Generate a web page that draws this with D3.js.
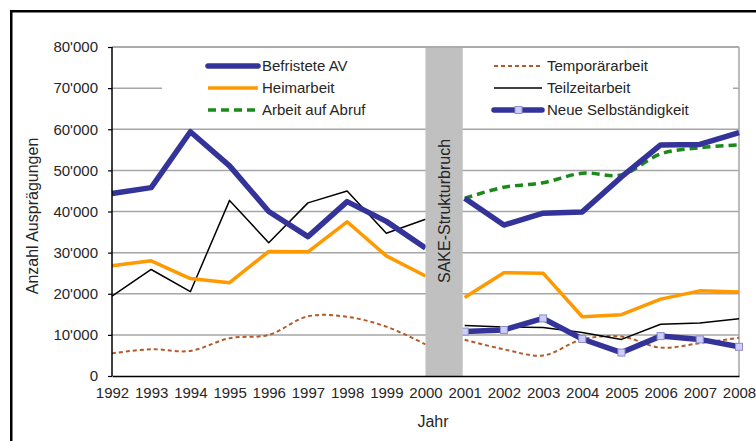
<!DOCTYPE html>
<html>
<head>
<meta charset="utf-8">
<script src="https://cdn.jsdelivr.net/npm/d3@7"></script>
<style>
body { margin: 0; background: #fff; }
text { font-family: "Liberation Sans", Arial, sans-serif; fill: #262626; }
</style>
</head>
<body>
<svg></svg>
<script>
var width = 756;
var height = 441;

// data
var years = [1992, 1993, 1994, 1995, 1996, 1997, 1998, 1999, 2000,
             2001, 2002, 2003, 2004, 2005, 2006, 2007, 2008];
var yearsNew = [2001, 2002, 2003, 2004, 2005, 2006, 2007, 2008];

var befristete = [44400, 45800, 59400, 51100, 40000, 33900, 42400, 37600, 31100,
                  43200, 36700, 39600, 39900, 48400, 56200, 56300, 59200];
var heimarbeit = [26800, 28000, 23700, 22700, 30300, 30200, 37500, 29200, 24300,
                  19100, 25100, 25000, 14400, 14900, 18700, 20700, 20400];
var teilzeit = [19400, 25900, 20500, 42700, 32400, 42100, 45000, 34700, 38100,
                12300, 11900, 11800, 10600, 8900, 12600, 12900, 13900];
var temporaer = [5500, 6500, 6100, 9200, 10000, 14500, 14400, 12000, 7700,
                 8800, 6500, 5000, 8900, 9600, 6900, 8000, 9300];
var abruf = [43200, 45900, 47000, 49300, 48900, 54000, 55500, 56200];
var selbst = [10800, 11200, 14000, 9000, 5700, 9700, 8900, 7100];

var yTicks = [0, 10000, 20000, 30000, 40000, 50000, 60000, 70000, 80000];
var breakYears = [2000, 2001];

var margin = {left: 112, right: 739, top: 47, bottom: 376};

var x = d3.scaleLinear().domain([1992, 2008]).range([margin.left, margin.right]);
var y = d3.scaleLinear().domain([0, 80000]).range([margin.bottom, margin.top]);

var fmt = v => d3.format(",")(v).replace(/,/g, "'");

var svg = d3.select('svg')
	.attr('width', width)
	.attr('height', height);

// outer frame (runs off the picture on the right and bottom)
svg.append('rect')
	.attr('x', 11.25).attr('y', 11.25)
	.attr('width', 800).attr('height', 500)
	.attr('fill', 'none')
	.attr('stroke', '#000')
	.attr('stroke-width', 2.5);

// gridlines
svg.append('g')
	.selectAll('line')
	.data(yTicks.filter(d => d > 0))
	.enter().append('line')
		.attr('x1', margin.left).attr('x2', margin.right)
		.attr('y1', d => y(d)).attr('y2', d => y(d))
		.attr('stroke', '#a6a6a6')
		.attr('stroke-width', 1.5);

svg.append('line')
	.attr('x1', margin.right).attr('x2', margin.right)
	.attr('y1', margin.top).attr('y2', margin.bottom)
	.attr('stroke', '#a6a6a6')
	.attr('stroke-width', 1.5);

// legend background hides the gridline behind it
svg.append('rect')
	.attr('x', 162).attr('y', 52)
	.attr('width', 571).attr('height', 70)
	.attr('fill', '#fff');

var series = [
	{name: 'Temporärarbeit', years: years, values: temporaer, color: '#b35a2a', width: 2, dash: '4,3', smooth: true},
	{name: 'Teilzeitarbeit', years: years, values: teilzeit, color: '#000', width: 1.5},
	{name: 'Heimarbeit', years: years, values: heimarbeit, color: '#ff9900', width: 3.5},
	{name: 'Arbeit auf Abruf', years: yearsNew, values: abruf, color: '#1b8a1b', width: 3.5, dash: '8,5', smooth: true},
	{name: 'Befristete AV', years: years, values: befristete, color: '#333399', width: 5.5},
	{name: 'Neue Selbständigkeit', years: yearsNew, values: selbst, color: '#333399', width: 5.5, marker: true}
];

var line = d3.line()
	.x(d => x(d.year))
	.y(d => y(d.value));

var smoothLine = d3.line()
	.x(d => x(d.year))
	.y(d => y(d.value))
	.curve(d3.curveCatmullRom.alpha(0.5));

series.forEach(s => {
	var pts = s.years.map((yr, i) => ({year: yr, value: s.values[i]}));
	var parts = [pts.filter(d => d.year <= breakYears[0]), pts.filter(d => d.year >= breakYears[1])]
		.filter(p => p.length > 1);
	svg.append('g')
		.selectAll('path')
		.data(parts)
		.enter().append('path')
			.attr('d', d => (s.smooth ? smoothLine : line)(d))
			.attr('fill', 'none')
			.attr('stroke', s.color)
			.attr('stroke-width', s.width)
			.attr('stroke-dasharray', s.dash || null)
			.attr('stroke-linejoin', 'round');
	if (s.marker) {
		svg.append('g')
			.selectAll('rect')
			.data(pts)
			.enter().append('rect')
				.attr('x', d => x(d.year) - 3.5)
				.attr('y', d => y(d.value) - 3.5)
				.attr('width', 7).attr('height', 7)
				.attr('fill', '#ccccff')
				.attr('stroke', '#8f8fc0')
				.attr('stroke-width', 1);
	}
});

// SAKE break band
svg.append('rect')
	.attr('x', x(breakYears[0]))
	.attr('y', margin.top)
	.attr('width', x(breakYears[1]) - x(breakYears[0]) - 2)
	.attr('height', margin.bottom - margin.top)
	.attr('fill', '#c0c0c0');

svg.append('text')
	.attr('transform', 'translate(450,283) rotate(-90)')
	.attr('font-size', '16px')
	.text('SAKE-Strukturbruch');

svg.append('line')
	.attr('x1', margin.left).attr('x2', margin.right)
	.attr('y1', margin.top).attr('y2', margin.top)
	.attr('stroke', '#a6a6a6')
	.attr('stroke-width', 1.5);

// axes
var yAxis = svg.append('g')
	.attr('transform', 'translate(' + margin.left + ',0)')
	.call(d3.axisLeft(y).tickValues(yTicks).tickFormat(fmt).tickSize(4).tickPadding(10));
yAxis.select('.domain').attr('stroke', '#000').attr('stroke-width', 1.5).attr('d', 'M0,' + margin.top + 'V' + margin.bottom);
yAxis.selectAll('.tick line').attr('stroke', '#000').attr('stroke-width', 1.2);
yAxis.selectAll('text').attr('font-size', '15px').attr('font-family', null).attr('fill', '#262626');

var xAxis = svg.append('g')
	.attr('transform', 'translate(0,' + margin.bottom + ')')
	.call(d3.axisBottom(x).tickValues(years).tickFormat(d3.format('d')).tickSize(0).tickPadding(11));
xAxis.select('.domain').attr('stroke', '#000').attr('stroke-width', 1.5);
xAxis.selectAll('text').attr('font-size', '15px').attr('font-family', null).attr('fill', '#262626');

svg.append('text')
	.attr('transform', 'translate(38,216) rotate(-90)')
	.attr('text-anchor', 'middle')
	.attr('font-size', '16px')
	.text('Anzahl Ausprägungen');

svg.append('text')
	.attr('x', 433)
	.attr('y', 427)
	.attr('text-anchor', 'middle')
	.attr('font-size', '16px')
	.text('Jahr');

// legend
var legendOrder = ['Befristete AV', 'Heimarbeit', 'Arbeit auf Abruf',
                   'Temporärarbeit', 'Teilzeitarbeit', 'Neue Selbständigkeit'];

var legend = svg.append('g')
	.selectAll('g')
	.data(legendOrder.map(n => series.find(s => s.name === n)))
	.enter().append('g')
		.attr('transform', (d, i) => 'translate(' + (i < 3 ? 208 : 494) + ',' + (66 + (i % 3) * 22) + ')');

legend.append('line')
	.attr('x1', 0).attr('x2', (d, i) => i < 3 ? 50 : 48)
	.attr('stroke', d => d.color)
	.attr('stroke-width', d => d.width)
	.attr('stroke-dasharray', d => d.dash || null)
	.attr('stroke-linecap', d => d.width > 4 ? 'round' : 'butt');

legend.filter(d => d.marker)
	.append('rect')
		.attr('x', 21).attr('y', -3.5)
		.attr('width', 7).attr('height', 7)
		.attr('fill', '#ccccff')
		.attr('stroke', '#8f8fc0');

legend.append('text')
	.attr('x', (d, i) => i < 3 ? 54 : 53)
	.attr('dy', '0.35em')
	.attr('font-size', '15px')
	.text(d => d.name);
</script>
</body>
</html>
